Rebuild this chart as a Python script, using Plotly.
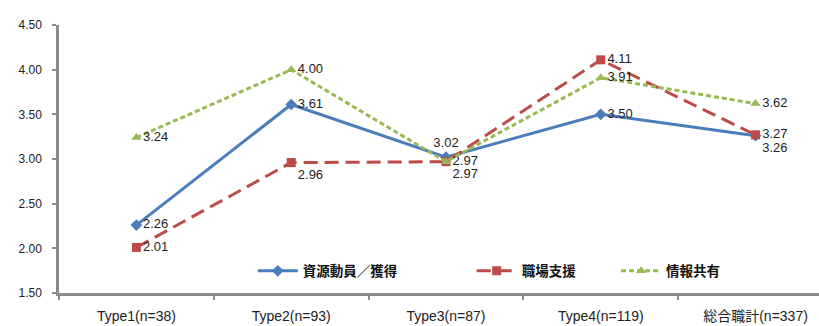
import plotly.graph_objects as go

categories = ["Type1(n=38)", "Type2(n=93)", "Type3(n=87)", "Type4(n=119)", "総合職計(n=337)"]
series_names = ["資源動員／獲得", "職場支援", "情報共有"]
resource = [2.26, 3.61, 3.02, 3.50, 3.26]
workplace = [2.01, 2.96, 2.97, 4.11, 3.27]
info = [3.24, 4.00, 2.97, 3.91, 3.62]
y_ticks = [1.5, 2.0, 2.5, 3.0, 3.5, 4.0, 4.5]

colors = ["#4A7EBB", "#BE4B48", "#98B954"]
FONT = "Liberation Sans, Noto Sans CJK JP, sans-serif"
CJK = "Noto Sans CJK JP, sans-serif"

fig = go.Figure()

specs = [
    (resource, series_names[0], colors[0], "solid", "diamond", 9,
     ["middle right", "middle right", "top center", "middle right", "bottom right"], "legend"),
    (workplace, series_names[1], colors[1], "14px,7px", "square", 9,
     ["middle right", "bottom right", "middle right", "middle right", "middle right"], "legend2"),
    (info, series_names[2], colors[2], "5px,3px", "triangle-up", 9,
     ["middle right", "middle right", "bottom right", "middle right", "middle right"], "legend3"),
]

for vals, name, col, dash, sym, size, pos, lg in specs:
    fig.add_trace(go.Scatter(
        x=categories, y=vals, name=name, mode="lines+markers+text",
        line=dict(color=col, width=3, dash=dash),
        marker=dict(symbol=sym, size=size, color=col),
        text=[f"{v:.2f}" for v in vals], textposition=pos,
        textfont=dict(family=FONT, size=13, color="#222222"),
        legend=lg, cliponaxis=False, showlegend=True,
    ))

legend_common = dict(
    orientation="h", yanchor="middle", xanchor="left", y=0.082,
    bgcolor="rgba(0,0,0,0)",
    font=dict(family=CJK, size=13.5, color="#111111", weight="bold"),
    itemwidth=40, tracegroupgap=0,
)

fig.update_layout(
    width=819, height=326,
    showlegend=True,
    margin=dict(l=59, r=0, t=25, b=33),
    paper_bgcolor="white", plot_bgcolor="white",
    font=dict(family=FONT, size=11, color="#222222"),
    legend=dict(x=0.255, **legend_common),
    legend2=dict(x=0.543, **legend_common),
    legend3=dict(x=0.733, **legend_common),
    xaxis=dict(
        type="category", range=[-0.5, 4.41], automargin=False,
        showline=True, linecolor="#8C8C8C", linewidth=2.5,
        ticks="outside", ticklen=4, tickcolor="#8C8C8C", tickwidth=1.5,
        tickson="boundaries", showgrid=False, zeroline=False,
        tickfont=dict(family=FONT, size=14, color="#222222"),
        ticklabelstandoff=8,
    ),
    yaxis=dict(
        range=[1.5, 4.5], tickvals=y_ticks, automargin=False,
        ticktext=[f"{v:.2f}" for v in y_ticks],
        showline=True, linecolor="#8C8C8C", linewidth=2.5,
        ticks="outside", ticklen=4, tickcolor="#8C8C8C", tickwidth=1.5,
        showgrid=False, zeroline=False,
        tickfont=dict(family=FONT, size=12, color="#222222"),
        ticklabelstandoff=8,
    ),
)

fig.write_html("out.html")
